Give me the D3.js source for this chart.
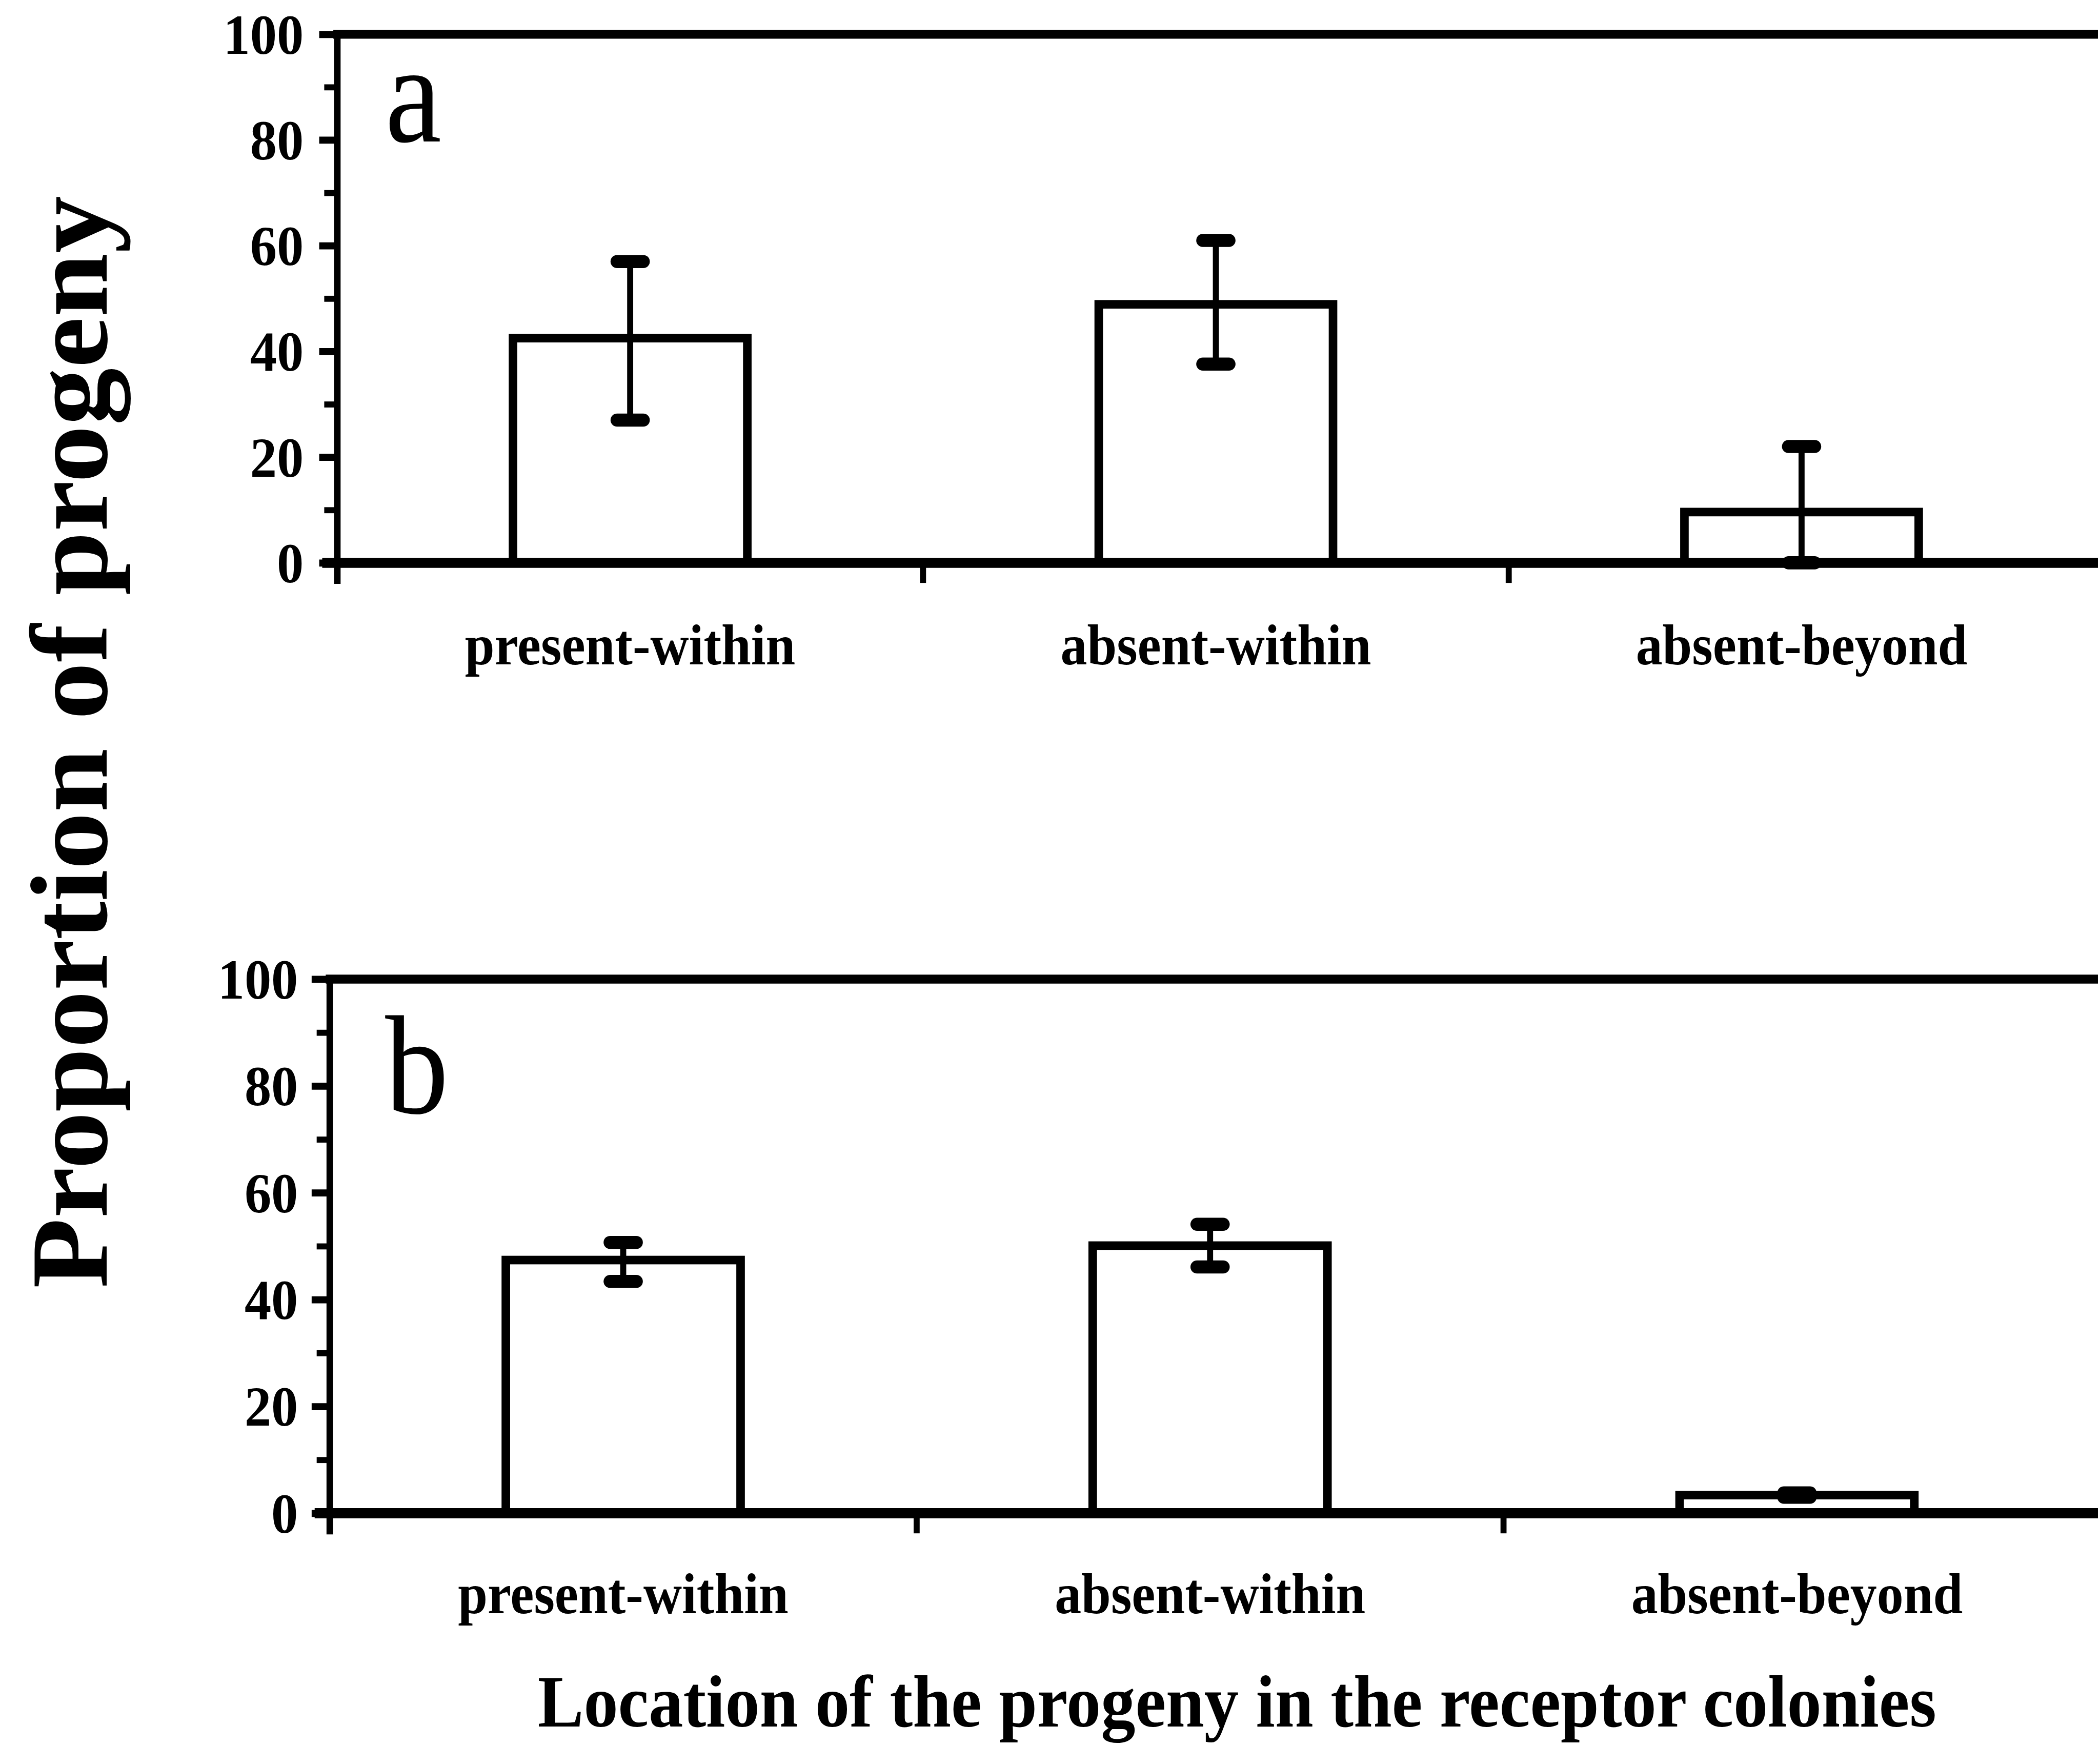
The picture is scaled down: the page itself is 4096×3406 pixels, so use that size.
<!DOCTYPE html>
<html>
<head>
<meta charset="utf-8">
<script src="https://cdn.jsdelivr.net/npm/d3@7"></script>
<style>
  html, body { margin: 0; padding: 0; background: #fff; }
  svg { display: block; }
  text { font-family: "Liberation Serif", "DejaVu Serif", serif; fill: #000; }
</style>
</head>
<body>
<script>
// values (percent of progeny)
const categories = ["present-within", "absent-within", "absent-beyond"];
const meansA = [42.5, 48.9, 9.6];
const lowA   = [27.0, 37.6, 0.0];
const highA  = [57.0, 61.0, 22.0];
const meansB = [47.4, 50.1, 3.4];
const lowB   = [43.4, 46.1, 3.0];
const highB  = [50.7, 54.1, 3.8];
const yTicks      = [0, 20, 40, 60, 80, 100];
const yMinorTicks = [10, 30, 50, 70, 90];

// the drawing is laid out in reference pixels, then shrunk to fit the window
const W = 4096, H = 3406, k = 0.982, refW = 4167;

const svg = d3.select("body").append("svg")
  .attr("width", W).attr("height", H);
const root = svg.append("g").attr("transform", `scale(${k})`);

// panel layout -- axis position, value range and label rows
const panels = [
  { letter: "a", means: meansA, low: lowA, high: highA,
    axisX: 670, y0: 1118, y100: 68, xEnd: 4160, labelY: 1320, letterY: 281, tickPad: 31 },
  { letter: "b", means: meansB, low: lowB, high: highB,
    axisX: 655, y0: 3006, y100: 1945, xEnd: 4152, labelY: 3205, letterY: 2211, tickPad: 27 }
];

const squeeze = (sel, f) => sel.each(function () {
  const len = this.getComputedTextLength();
  d3.select(this).attr("textLength", len * f).attr("lengthAdjust", "spacingAndGlyphs");
});

for (const p of panels) {
  const g = root.append("g");
  const y = d3.scaleLinear().domain([0, 100]).range([p.y0, p.y100]);
  const x = d3.scaleBand().domain(categories).range([p.axisX, p.xEnd]).padding(0);
  const bw = x.bandwidth(), barW = bw * 0.40;

  // frame: top line and baseline run to the page edge
  g.append("line").attr("x1", p.axisX - 8).attr("x2", refW)
    .attr("y1", y(100)).attr("y2", y(100))
    .attr("stroke", "#000").attr("stroke-width", 18);

  // bars
  const data = categories.map((c, i) => ({ c, m: p.means[i], lo: p.low[i], hi: p.high[i] }));
  g.selectAll("rect.bar").data(data).join("rect")
    .attr("class", "bar")
    .attr("x", d => x(d.c) + (bw - barW) / 2)
    .attr("width", barW)
    .attr("y", d => y(d.m))
    .attr("height", d => y(0) - y(d.m))
    .attr("fill", "#fff").attr("stroke", "#000").attr("stroke-width", 17);

  // error bars
  const eb = g.selectAll("g.err").data(data).join("g").attr("class", "err")
    .attr("transform", d => `translate(${x(d.c) + bw / 2},0)`);
  eb.append("line").attr("y1", d => y(d.hi)).attr("y2", d => y(d.lo))
    .attr("stroke", "#000").attr("stroke-width", 12);
  eb.selectAll("line.cap").data(d => [d.hi, d.lo]).join("line").attr("class", "cap")
    .attr("x1", -26).attr("x2", 26)
    .attr("y1", v => y(v)).attr("y2", v => y(v))
    .attr("stroke", "#000").attr("stroke-width", 26).attr("stroke-linecap", "round");

  // baseline and category ticks
  g.append("line").attr("x1", p.axisX - 30).attr("x2", refW)
    .attr("y1", y(0)).attr("y2", y(0))
    .attr("stroke", "#000").attr("stroke-width", 20);
  g.selectAll("line.xt").data(categories).join("line").attr("class", "xt")
    .attr("x1", c => x(c)).attr("x2", c => x(c))
    .attr("y1", y(0)).attr("y2", y(0) + 40)
    .attr("stroke", "#000").attr("stroke-width", 12);

  // y axis
  const yAxis = g.append("g").attr("transform", `translate(${p.axisX},0)`)
    .call(d3.axisLeft(y).tickValues(yTicks).tickSize(36).tickPadding(p.tickPad));
  yAxis.select(".domain").remove();
  yAxis.selectAll(".tick line").attr("stroke", "#000").attr("stroke-width", 14);
  yAxis.selectAll(".tick text")
    .attr("font-family", "Liberation Serif, serif")
    .attr("font-weight", "bold").attr("font-size", 112).attr("dy", "0.34em")
    .call(squeeze, 0.95);
  const yMinor = g.append("g").attr("transform", `translate(${p.axisX},0)`)
    .call(d3.axisLeft(y).tickValues(yMinorTicks).tickSize(26).tickFormat(""));
  yMinor.select(".domain").remove();
  yMinor.selectAll(".tick line").attr("stroke", "#000").attr("stroke-width", 12);
  g.append("line").attr("x1", p.axisX).attr("x2", p.axisX)
    .attr("y1", y(100) - 4).attr("y2", y(0) + 42)
    .attr("stroke", "#000").attr("stroke-width", 13);

  // category labels
  g.selectAll("text.cat").data(categories).join("text").attr("class", "cat")
    .attr("x", c => x(c) + bw / 2).attr("y", p.labelY)
    .attr("text-anchor", "middle").attr("font-weight", "bold").attr("font-size", 115)
    .text(c => c)
    .call(squeeze, 0.92);

  // panel letter
  g.append("text").attr("x", 765).attr("y", p.letterY)
    .attr("font-size", 280).text(p.letter)
    .call(squeeze, 0.9);
}

// axis titles
root.append("text")
  .attr("transform", "translate(212,1474) rotate(-90)")
  .attr("text-anchor", "middle").attr("font-weight", "bold").attr("font-size", 218)
  .attr("textLength", 2170).attr("lengthAdjust", "spacingAndGlyphs")
  .text("Proportion of progeny");

root.append("text")
  .attr("x", 2457).attr("y", 3430)
  .attr("text-anchor", "middle").attr("font-weight", "bold").attr("font-size", 147)
  .attr("textLength", 2778).attr("lengthAdjust", "spacingAndGlyphs")
  .text("Location of the progeny in the receptor colonies");
</script>
</body>
</html>
